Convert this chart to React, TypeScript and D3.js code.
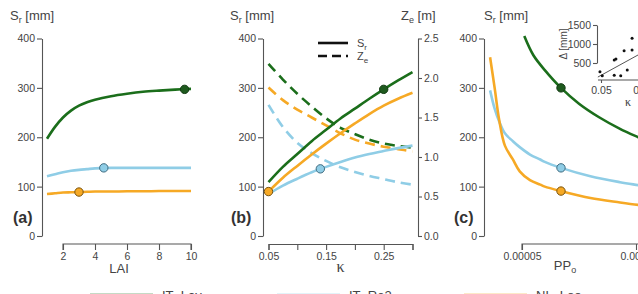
import { useEffect, useRef } from 'react';
import * as d3 from 'd3';

const FONT = 'Liberation Sans, Arial, sans-serif';
const SERIF = 'Liberation Serif, DejaVu Serif, serif';

const SITES = ['IT_Lav', 'IT_Re2', 'NL_Loo'];
const COLORS = ['#1b6e1b', '#8fcde6', '#f6a925'];
const MARKER_FILL = ['#1e5a1e', '#8fcde6', '#f6a925'];
const MARKER_STROKE = ['#123a12', '#3d6b80', '#7a5410'];

// (a) rooting depth vs LAI
const LAI = [1, 1.5, 2, 2.5, 3, 3.5, 4, 5, 6, 7, 8, 9, 10];
const laiLav = [197, 221, 240, 254, 264, 271, 276, 283, 288, 292, 294.5, 296.5, 298];
const laiRe2 = [121, 125, 129, 132, 134, 135.5, 137, 138, 138, 138, 138, 138, 138];
const laiLoo = [85, 86.5, 88, 88.5, 89, 89.5, 90, 90, 90.5, 90.5, 91, 91, 91];
const laiMarkX = [9.6, 4.55, 3];
const laiMarkY = [297, 138, 89];

// (b) rooting depth and Ze vs kappa
const KAPPA = [0.05, 0.075, 0.1, 0.125, 0.15, 0.175, 0.2, 0.225, 0.25, 0.275, 0.3];
const srLav = [109, 140, 166, 192, 215, 238, 258, 278, 297, 315, 332];
const srRe2 = [85, 102, 116, 129, 140, 150, 159, 166, 172, 178, 183];
const srLoo = [90, 118, 142, 165, 187, 208, 228, 247, 264, 278, 290];
const zeLav = [2.18, 1.98, 1.8, 1.64, 1.49, 1.37, 1.29, 1.22, 1.17, 1.14, 1.12];
const zeRe2 = [1.66, 1.38, 1.18, 1.05, 0.95, 0.87, 0.81, 0.76, 0.72, 0.68, 0.65];
const zeLoo = [1.88, 1.72, 1.6, 1.5, 1.4, 1.3, 1.22, 1.17, 1.13, 1.1, 1.07];
const kapMarkX = [0.25, 0.14, 0.05];
const kapMarkY = [297, 136, 90];

// (c) rooting depth vs PPo
const PP_LAV = [5.1e-5, 5.5e-5, 6e-5, 6.71e-5, 7.5e-5, 8.4e-5, 9.3e-5, 1.01e-4, 1.05e-4];
const ppLav = [405, 366, 336, 300, 268, 240, 217, 200, 192];
const PP = [3.6e-5, 3.8e-5, 4.0e-5, 4.25e-5, 4.6e-5, 4.9e-5, 5.35e-5, 5.8e-5, 6.0e-5, 6.71e-5, 8.0e-5, 9.3e-5, 1.01e-4, 1.05e-4];
const ppRe2 = [295, 258, 232, 208, 192, 180, 165, 155, 150, 138, 121, 109, 103, 100];
const ppLoo = [362, 300, 235, 183, 155, 131, 113, 104, 100, 91, 77, 68, 63, 61];
const ppMarkX = [6.71e-5, 6.71e-5, 6.71e-5];
const ppMarkY = [300, 138, 91];

// inset: Delta vs kappa
const insetKappa = [0.045, 0.056, 0.113, 0.121, 0.113, 0.144, 0.16, 0.175, 0.198, 0.198];
const insetDelta = [271, 166, 579, 605, 176, 166, 824, 316, 1150, 842];
const fitKappa = [0.035, 0.3];
const fitDelta = [130, 935];

const S_TICKS = [0, 100, 200, 300, 400];
const ZE_TICKS = [0, 0.5, 1, 1.5, 2, 2.5];

export default function App() {
  const ref = useRef<SVGSVGElement>(null);

  useEffect(() => {
    if (!ref.current) return;
    const svg = d3.select(ref.current);
    svg.selectAll('*').remove();

    const yS = d3.scaleLinear().domain([0, 400]).range([236, 38.5]);
    const xA = d3.scaleLinear().domain([1, 10]).range([47, 191]);
    const xB = d3.scaleLinear().domain([0.05, 0.3]).range([268.5, 412.5]);
    const yZe = d3.scaleLinear().domain([0, 2.5]).range([236, 38.5]);
    const xC = d3.scaleLinear().domain([0.00005, 0.0001]).range([522, 636]);

    const styleAxis = (g: any, size = 10.5) => {
      g.attr('font-size', size).attr('font-family', FONT).attr('color', '#555');
      g.selectAll('text').attr('fill', '#444');
      g.selectAll('line,path').attr('stroke-width', 1.1);
    };

    const title = (x: number, main: string, sub: string, rest: string) => {
      const t = svg.append('text').attr('x', x).attr('y', 20)
        .attr('font-family', FONT).attr('font-size', 13).attr('fill', '#444');
      t.append('tspan').text(main);
      t.append('tspan').attr('font-size', 9).attr('dy', 3).text(sub);
      t.append('tspan').attr('dy', -3).text(rest);
    };

    const panelLabel = (x: number, txt: string) => {
      svg.append('text').attr('x', x).attr('y', 223)
        .attr('font-family', FONT).attr('font-size', 16).attr('font-weight', 'bold')
        .attr('fill', '#333').text(txt);
    };

    const leftAxis = (x: number) => {
      const g = svg.append('g').attr('transform', `translate(${x},0)`)
        .call(d3.axisLeft(yS).tickValues(S_TICKS).tickSize(5).tickSizeOuter(0).tickPadding(2));
      styleAxis(g);
    };

    const drawLine = (xs: number[], ys: number[], sx: any, sy: any, color: string, dashed = false) => {
      const line = d3.line<number>()
        .x((_, i) => sx(xs[i]))
        .y(d => sy(d))
        .curve(d3.curveCatmullRom.alpha(0.5));
      svg.append('path').datum(ys)
        .attr('d', line)
        .attr('fill', 'none')
        .attr('stroke', color)
        .attr('stroke-width', 2.6)
        .attr('stroke-dasharray', dashed ? '10,6' : null);
    };

    const drawMarkers = (xs: number[], ys: number[], sx: any) => {
      xs.forEach((xv, i) => {
        svg.append('circle')
          .attr('cx', sx(xv)).attr('cy', yS(ys[i])).attr('r', 4.2)
          .attr('fill', MARKER_FILL[i]).attr('stroke', MARKER_STROKE[i]).attr('stroke-width', 1);
      });
    };

    // ---- (a) ----
    title(10, 'S', 'r', ' [mm]');
    leftAxis(42);
    const axA = svg.append('g').attr('transform', 'translate(0,244)')
      .call(d3.axisBottom(xA).tickValues([2, 4, 6, 8, 10]).tickSize(6).tickPadding(3));
    axA.select('.domain').attr('d', `M${xA(2)},6V0H${xA(10)}V6`);
    styleAxis(axA);
    svg.append('text').attr('x', (xA(1) + xA(10)) / 2).attr('y', 273)
      .attr('text-anchor', 'middle').attr('font-family', FONT).attr('font-size', 13)
      .attr('fill', '#444').text('LAI');
    [laiLoo, laiRe2, laiLav].forEach((ys, k) => drawLine(LAI, ys, xA, yS, COLORS[2 - k]));
    drawMarkers(laiMarkX, laiMarkY, xA);
    panelLabel(13, '(a)');

    // ---- (b) ----
    title(230, 'S', 'r', ' [mm]');
    title(401, 'Z', 'e', ' [m]');
    leftAxis(263);
    const axZe = svg.append('g').attr('transform', 'translate(418,0)')
      .call(d3.axisRight(yZe).tickValues(ZE_TICKS).tickSize(4).tickSizeOuter(0).tickPadding(2)
        .tickFormat(d3.format('.1f')));
    styleAxis(axZe);
    const axB = svg.append('g').attr('transform', 'translate(0,244)')
      .call(d3.axisBottom(xB).tickValues([0.05, 0.1, 0.15, 0.2, 0.25, 0.3]).tickSize(6).tickPadding(3)
        .tickFormat((d: any) => ([0.05, 0.15, 0.25].some(v => Math.abs(v - d) < 1e-9) ? String(d) : '')));
    styleAxis(axB);
    svg.append('text').attr('x', (xB(0.05) + xB(0.3)) / 2).attr('y', 272)
      .attr('text-anchor', 'middle').attr('font-family', SERIF).attr('font-size', 16)
      .attr('fill', '#444').text('κ');
    [zeRe2, zeLoo, zeLav].forEach((ys, k) => drawLine(KAPPA, ys, xB, yZe, [COLORS[1], COLORS[2], COLORS[0]][k], true));
    [srRe2, srLoo, srLav].forEach((ys, k) => drawLine(KAPPA, ys, xB, yS, [COLORS[1], COLORS[2], COLORS[0]][k]));
    drawMarkers(kapMarkX, kapMarkY, xB);
    panelLabel(231, '(b)');

    // line-style key
    const key = svg.append('g');
    key.append('line').attr('x1', 318).attr('x2', 348).attr('y1', 43).attr('y2', 43)
      .attr('stroke', '#111').attr('stroke-width', 2.6);
    key.append('line').attr('x1', 318).attr('x2', 348).attr('y1', 56).attr('y2', 56)
      .attr('stroke', '#111').attr('stroke-width', 2.6).attr('stroke-dasharray', '9,5');
    [['S', 'r', 47], ['Z', 'e', 60]].forEach(([m, s, y]) => {
      const t = key.append('text').attr('x', 357).attr('y', y as number)
        .attr('font-family', FONT).attr('font-size', 11).attr('fill', '#444');
      t.append('tspan').text(m as string);
      t.append('tspan').attr('font-size', 8).attr('dy', 2.5).text(s as string);
    });

    // ---- (c) ----
    title(484, 'S', 'r', ' [mm]');
    leftAxis(484);
    const axC = svg.append('g').attr('transform', 'translate(0,244)')
      .call(d3.axisBottom(xC).tickValues([0.00005, 0.0001]).tickSize(6).tickPadding(3)
        .tickFormat((d: any) => (d < 0.00007 ? '0.00005' : '0.0001')));
    axC.select('.domain').attr('d', `M${xC(0.00005)},6V0H${650}`);
    styleAxis(axC);
    const ppLabel = svg.append('text').attr('x', 565).attr('y', 270)
      .attr('text-anchor', 'middle').attr('font-family', FONT).attr('font-size', 13).attr('fill', '#444');
    ppLabel.append('tspan').text('PP');
    ppLabel.append('tspan').attr('font-size', 9).attr('dy', 3).text('o');
    drawLine(PP, ppRe2, xC, yS, COLORS[1]);
    drawLine(PP, ppLoo, xC, yS, COLORS[2]);
    drawLine(PP_LAV, ppLav, xC, yS, COLORS[0]);
    drawMarkers(ppMarkX, ppMarkY, xC);
    panelLabel(454, '(c)');

    // inset
    const yI = d3.scaleLinear().domain([500, 1500]).range([63, 25]);
    const xI = d3.scaleLinear().domain([0.05, 0.25]).range([601, 643]);
    const axIy = svg.append('g').attr('transform', 'translate(597,0)')
      .call(d3.axisLeft(yI).tickValues([500, 1000, 1500]).tickSize(4).tickSizeOuter(0).tickPadding(2)
        .tickFormat(d3.format('d')));
    styleAxis(axIy, 10.5);
    const axIx = svg.append('g').attr('transform', 'translate(0,80)')
      .call(d3.axisBottom(xI).tickValues([0.05, 0.25]).tickSize(3).tickSizeOuter(0).tickPadding(4));
    axIx.select('.domain').attr('d', `M598,0H650`);
    styleAxis(axIx, 10.5);
    svg.append('text').attr('transform', 'translate(567,44) rotate(-90)')
      .attr('text-anchor', 'middle').attr('font-family', FONT).attr('font-size', 10)
      .attr('fill', '#444').text('Δ [mm]');
    svg.append('text').attr('x', 628).attr('y', 106).attr('text-anchor', 'middle')
      .attr('font-family', SERIF).attr('font-size', 12).attr('fill', '#444').text('κ');
    svg.append('line')
      .attr('x1', xI(fitKappa[0])).attr('y1', yI(fitDelta[0]))
      .attr('x2', xI(fitKappa[1])).attr('y2', yI(fitDelta[1]))
      .attr('stroke', '#555').attr('stroke-width', 1);
    insetKappa.forEach((k, i) => {
      svg.append('circle').attr('cx', xI(k)).attr('cy', yI(insetDelta[i])).attr('r', 1.5).attr('fill', '#111');
    });

    // site legend along the bottom
    const legX = [90, 277, 464];
    SITES.forEach((s, i) => {
      svg.append('line').attr('x1', legX[i]).attr('x2', legX[i] + 63).attr('y1', 295.2).attr('y2', 295.2)
        .attr('stroke', COLORS[i]).attr('stroke-width', 3);
      svg.append('text').attr('x', legX[i] + 72).attr('y', 299.5)
        .attr('font-family', FONT).attr('font-size', 13).attr('fill', '#444').text(s);
    });
  }, []);

  return (
    <svg
      ref={ref}
      width={638}
      height={294}
      style={{ position: 'absolute', left: 0, top: 0, background: '#fff' }}
    />
  );
}
